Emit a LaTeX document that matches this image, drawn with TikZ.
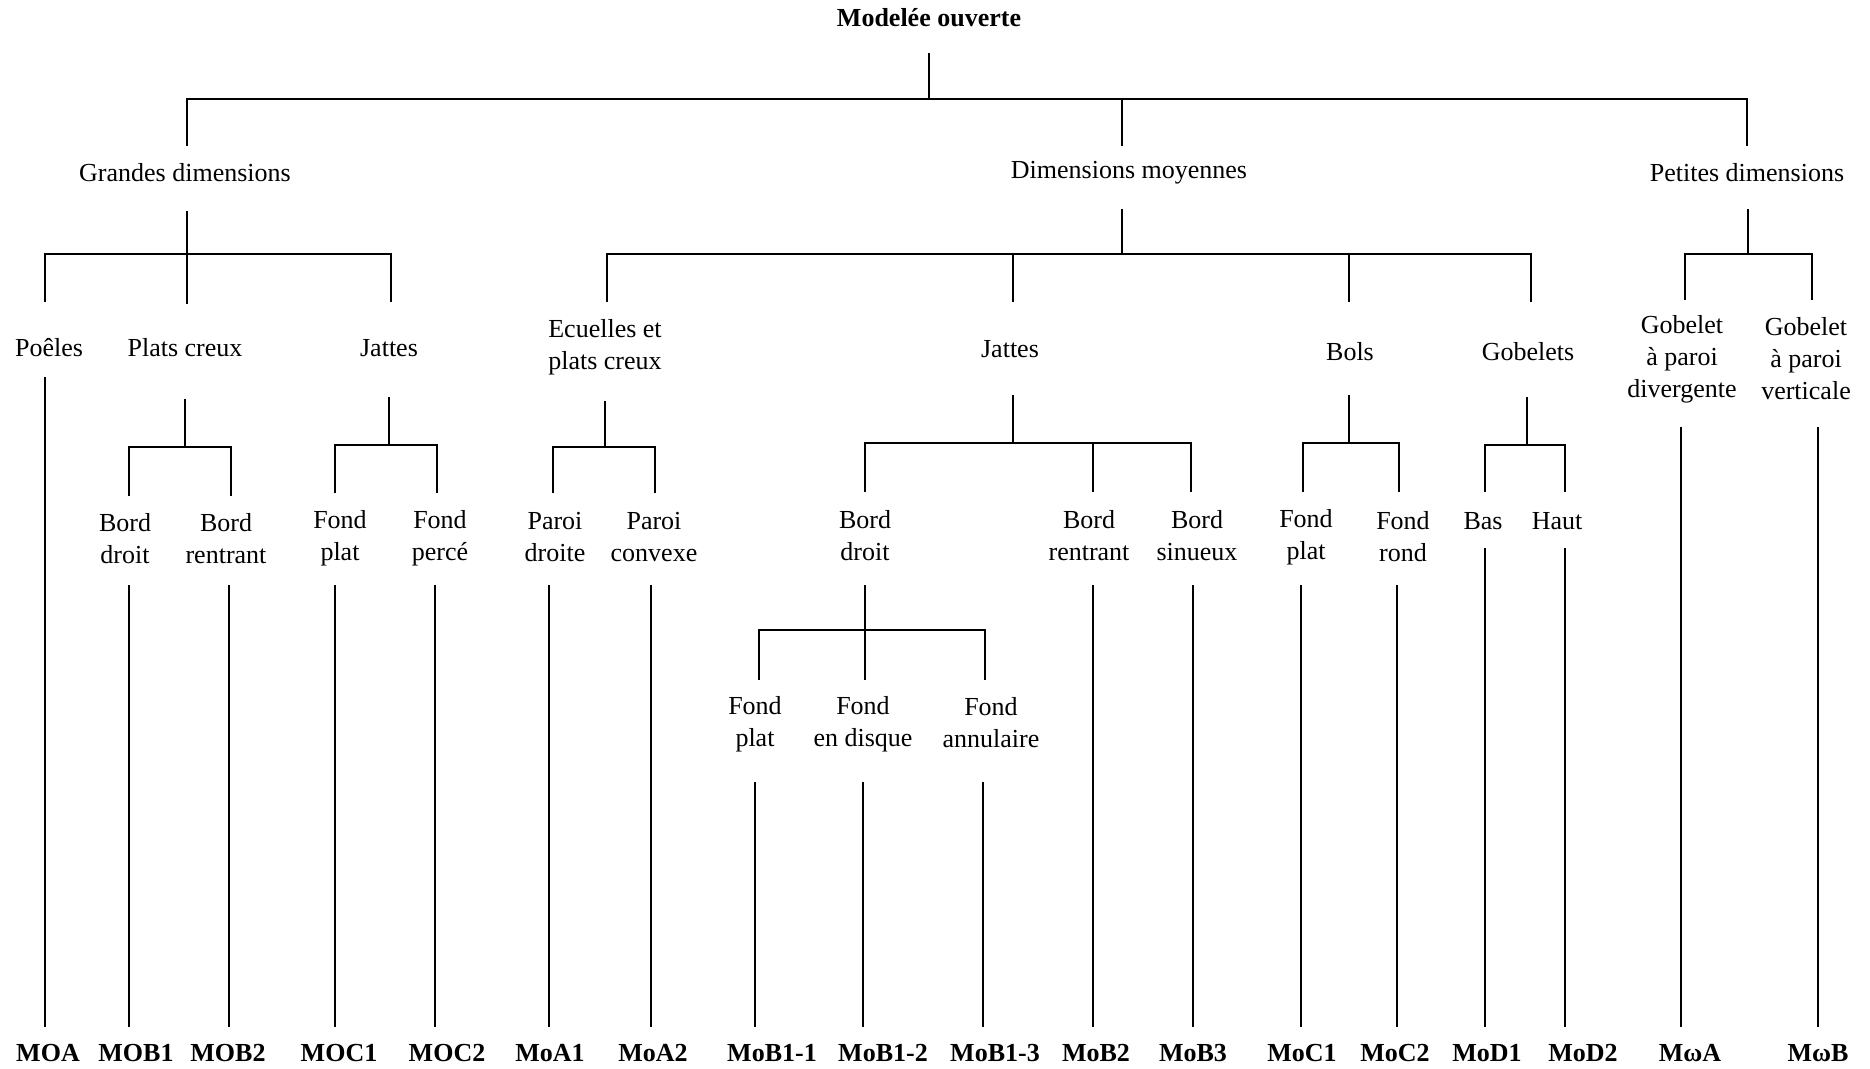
\documentclass[tikz,border=0pt]{standalone}
\usepackage{fontspec}
\setmainfont{Liberation Serif}
\begin{document}
\begin{tikzpicture}[x=1pt,y=-1pt,
  lbl/.style={font=\fontsize{26}{32}\selectfont, align=center, inner sep=0pt},
  code/.style={font=\bfseries\fontsize{26}{32}\selectfont, inner sep=0pt},
  ln/.style={line width=1.7pt}]
\useasboundingbox[fill=white] (0,0) rectangle (1870,1068);
% ---------- text nodes ----------
\node[code] (root) at (929,18) {Modelée ouverte};
\node[lbl] (GD) at (185,173) {Grandes dimensions};
\node[lbl] (DM) at (1129,173) {Dimensions moyennes};
\node[lbl] (PD) at (1747,173) {Petites dimensions};
\node[lbl] (poe) at (49,348) {Poêles};
\node[lbl] (pc) at (185,348) {Plats creux};
\node[lbl] (jg) at (389,348) {Jattes};
\node[lbl] (ec) at (605,347) {Ecuelles et\\plats creux};
\node[lbl] (jm) at (1010,349) {Jattes};
\node[lbl] (bol) at (1350,352) {Bols};
\node[lbl] (gob) at (1528,352) {Gobelets};
\node[lbl] (gdv) at (1682,359) {Gobelet\\à paroi\\divergente};
\node[lbl] (gve) at (1806,359) {Gobelet\\à paroi\\verticale};
\node[lbl] (bd1) at (125,539) {Bord\\droit};
\node[lbl] (br1) at (226,539) {Bord\\rentrant};
\node[lbl] (fp1) at (340,538) {Fond\\plat};
\node[lbl] (fpe) at (440,538) {Fond\\percé};
\node[lbl] (pdr) at (555,537) {Paroi\\droite};
\node[lbl] (pcv) at (654,537) {Paroi\\convexe};
\node[lbl] (bd2) at (865,536) {Bord\\droit};
\node[lbl] (br2) at (1089,536) {Bord\\rentrant};
\node[lbl] (bsi) at (1197,536) {Bord\\sinueux};
\node[lbl] (fp2) at (1306,537) {Fond\\plat};
\node[lbl] (fro) at (1403,537) {Fond\\rond};
\node[lbl] (bas) at (1483,521) {Bas};
\node[lbl] (hau) at (1557,521) {Haut};
\node[lbl] (fp3) at (755,724) {Fond\\plat};
\node[lbl] (fed) at (863,724) {Fond\\en disque};
\node[lbl] (fan) at (991,723) {Fond\\annulaire};
% ---------- codes ----------
\node[code] (c1) at (48,1053) {MOA};
\node[code] (c2) at (136,1053) {MOB1};
\node[code] (c3) at (228,1053) {MOB2};
\node[code] (c4) at (339,1053) {MOC1};
\node[code] (c5) at (447,1053) {MOC2};
\node[code] (c6) at (550,1053) {MoA1};
\node[code] (c7) at (653,1053) {MoA2};
\node[code] (c8) at (772,1053) {MoB1-1};
\node[code] (c9) at (883,1053) {MoB1-2};
\node[code] (c10) at (995,1053) {MoB1-3};
\node[code] (c11) at (1096,1053) {MoB2};
\node[code] (c12) at (1193,1053) {MoB3};
\node[code] (c13) at (1302,1053) {MoC1};
\node[code] (c14) at (1395,1053) {MoC2};
\node[code] (c15) at (1487,1053) {MoD1};
\node[code] (c16) at (1583,1053) {MoD2};
\node[code] (c17) at (1690,1053) {MωA};
\node[code] (c18) at (1818,1053) {MωB};
% ---------- brackets ----------
% root
\draw[ln] (929,53) -- (929,99);
\draw[ln] (187,146) -- (187,99) -- (1747,99) -- (1747,146);
\draw[ln] (1122,99) -- (1122,146);
% Grandes dimensions
\draw[ln] (187,211) -- (187,304);
\draw[ln] (45,302) -- (45,254) -- (391,254) -- (391,302);
% Dimensions moyennes
\draw[ln] (1122,209) -- (1122,254);
\draw[ln] (607,302) -- (607,254) -- (1531,254) -- (1531,302);
\draw[ln] (1013,254) -- (1013,302);
\draw[ln] (1349,254) -- (1349,302);
% Petites dimensions
\draw[ln] (1748,209) -- (1748,254);
\draw[ln] (1685,300) -- (1685,254) -- (1812,254) -- (1812,300);
% Plats creux
\draw[ln] (185,399) -- (185,447);
\draw[ln] (129,496) -- (129,447) -- (231,447) -- (231,496);
% Jattes (GD)
\draw[ln] (389,397) -- (389,445);
\draw[ln] (335,493) -- (335,445) -- (437,445) -- (437,493);
% Ecuelles
\draw[ln] (605,401) -- (605,447);
\draw[ln] (553,493) -- (553,447) -- (655,447) -- (655,493);
% Jattes (DM)
\draw[ln] (1013,395) -- (1013,443);
\draw[ln] (865,492) -- (865,443) -- (1191,443) -- (1191,492);
\draw[ln] (1093,443) -- (1093,492);
% Bols
\draw[ln] (1349,395) -- (1349,443);
\draw[ln] (1303,492) -- (1303,443) -- (1399,443) -- (1399,492);
% Gobelets
\draw[ln] (1527,397) -- (1527,445);
\draw[ln] (1485,492) -- (1485,445) -- (1565,445) -- (1565,492);
% Bord droit (DM)
\draw[ln] (865,585) -- (865,680);
\draw[ln] (759,680) -- (759,630) -- (985,630) -- (985,680);
% ---------- long drops to codes ----------
\draw[ln] (45,377) -- (45,1027);
\foreach \x in {129,229,335,435,549,651,1093,1193,1301,1397}
  \draw[ln] (\x,585) -- (\x,1027);
\foreach \x in {1485,1565}
  \draw[ln] (\x,548) -- (\x,1027);
\foreach \x in {1681,1818}
  \draw[ln] (\x,427) -- (\x,1027);
\foreach \x in {755,863,983}
  \draw[ln] (\x,782) -- (\x,1027);
\end{tikzpicture}
\end{document}
